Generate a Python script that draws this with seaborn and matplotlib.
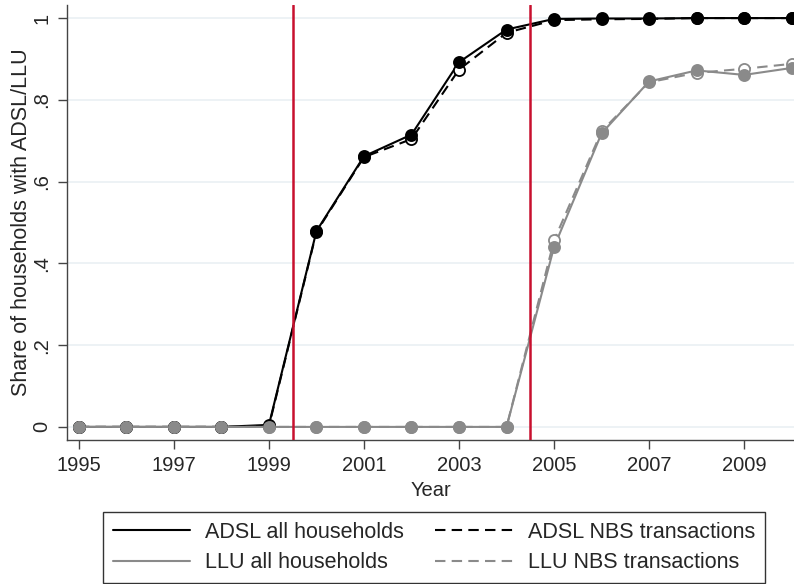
import matplotlib
matplotlib.use("Agg")
import matplotlib.pyplot as plt
import seaborn as sns
import pandas as pd

years = list(range(1995, 2011))
adsl_all = [0, 0, 0, 0, 0.005, 0.479, 0.662, 0.715, 0.892, 0.972, 0.998, 0.999, 0.999, 1.0, 1.0, 1.0]
adsl_nbs = [0, 0, 0, 0, 0.002, 0.477, 0.660, 0.704, 0.874, 0.964, 0.995, 0.997, 0.998, 1.0, 1.0, 1.0]
llu_all = [0, 0, 0, 0, 0, 0, 0, 0, 0, 0, 0.440, 0.718, 0.845, 0.872, 0.861, 0.878]
llu_nbs = [0, 0, 0, 0, 0, 0, 0, 0, 0, 0, 0.456, 0.723, 0.843, 0.866, 0.876, 0.888]
events = [1999.5, 2004.5]
y_ticks = [0, 0.2, 0.4, 0.6, 0.8, 1.0]
y_ticklabels = ["0", ".2", ".4", ".6", ".8", "1"]
x_ticks = [1995, 1997, 1999, 2001, 2003, 2005, 2007, 2009]

sns.set_theme(style="white")
plt.rcParams["font.family"] = ["Liberation Sans", "DejaVu Sans"]

df = pd.DataFrame({
    "Year": years * 4,
    "share": adsl_all + adsl_nbs + llu_all + llu_nbs,
    "series": (["ADSL all households"] * 16 + ["ADSL NBS transactions"] * 16
               + ["LLU all households"] * 16 + ["LLU NBS transactions"] * 16),
})

black = "#000000"
gray = "#8a8a8a"
styles = {
    "ADSL all households": dict(color=black, ls="-", fill=True),
    "ADSL NBS transactions": dict(color=black, ls=(0, (5, 3)), fill=False),
    "LLU all households": dict(color=gray, ls="-", fill=True),
    "LLU NBS transactions": dict(color=gray, ls=(0, (5, 3)), fill=False),
}

fig = plt.figure(figsize=(7.94, 5.84), dpi=100)
ax = fig.add_axes([67 / 794, 1 - 440 / 584, 1 - 67 / 794, (440 - 5) / 584])

ax.grid(False)
for yt in y_ticks:
    ax.axhline(yt, color="#eaf0f4", lw=1.2, zorder=0)

handles = {}
order = ["ADSL NBS transactions", "ADSL all households", "LLU NBS transactions", "LLU all households"]
for name in order:
    st = styles[name]
    sub = df[df["series"] == name]
    sns.lineplot(data=sub, x="Year", y="share", ax=ax, color=st["color"],
                 linestyle=st["ls"], lw=1.5, legend=False, zorder=3)
    ax.plot(sub["Year"], sub["share"], ls="none", marker="o", ms=8,
            mfc=st["color"] if st["fill"] else "white", mec=st["color"], mew=1.3,
            zorder=4 if st["fill"] else 3.5, clip_on=False)
    handles[name] = plt.Line2D([], [], color=st["color"], ls=st["ls"], lw=1.5)

for ev in events:
    ax.axvline(ev, color="#c8102e", lw=1.8, zorder=5)

ax.set_xlim(1994.75, 2010.05)
ax.set_ylim(-0.032, 1.032)
ax.set_xticks(x_ticks)
ax.set_yticks(y_ticks)
ax.set_yticklabels(y_ticklabels, rotation=90, va="center")
ax.tick_params(axis="both", direction="out", length=6.5, width=1, color="#444444",
               labelsize=14.5, bottom=True, left=True, pad=5)
for s in ["top", "right"]:
    ax.spines[s].set_visible(False)
for s in ["left", "bottom"]:
    ax.spines[s].set_color("#444444")
    ax.spines[s].set_linewidth(1)
ax.set_xlabel("Year", fontsize=14.5, labelpad=4)
ax.set_ylabel("Share of households with ADSL/LLU", fontsize=15.5, labelpad=0)

leg_order = ["ADSL all households", "LLU all households", "ADSL NBS transactions", "LLU NBS transactions"]
fig.legend([handles[n] for n in leg_order], leg_order, ncol=2, loc="center",
           bbox_to_anchor=(434 / 794, 1 - 547.5 / 584), fontsize=15.5, frameon=True,
           fancybox=False, edgecolor="black", handlelength=3.6, columnspacing=1.45,
           borderpad=0.45, labelspacing=0.45, handletextpad=0.7)

fig.savefig("out.png", dpi=100)
